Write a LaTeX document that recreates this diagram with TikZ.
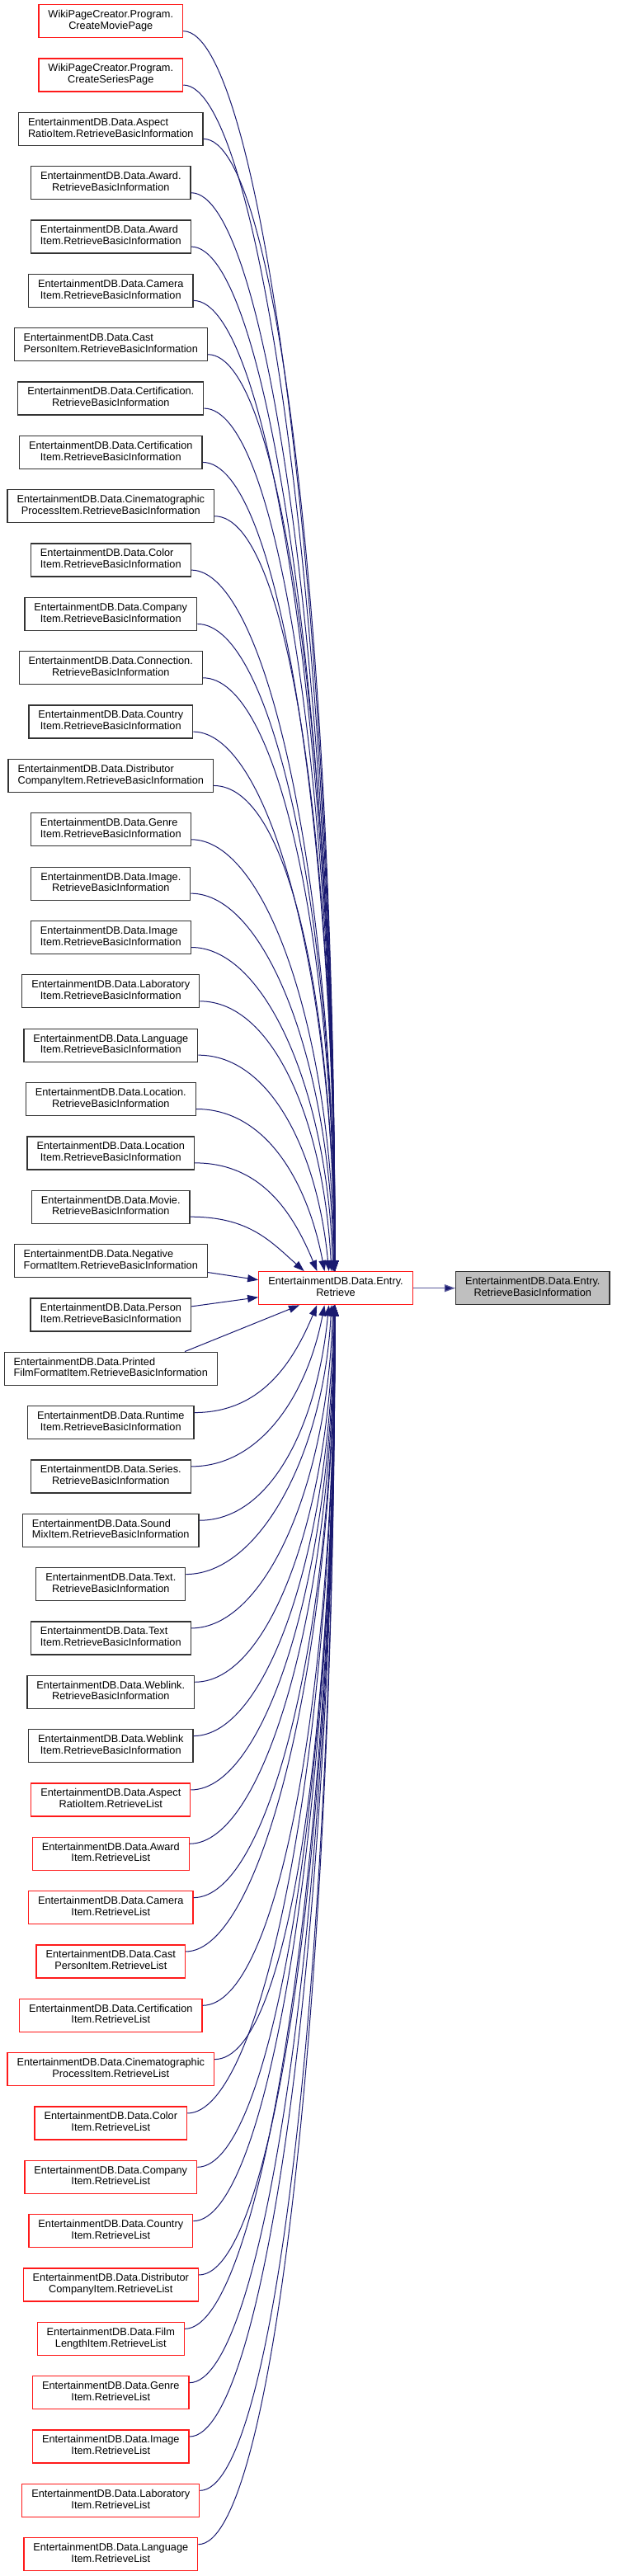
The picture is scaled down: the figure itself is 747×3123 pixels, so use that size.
\documentclass[tikz,border=0pt]{standalone}
\usepackage{fontspec}
\setmainfont{Liberation Sans}
\usetikzlibrary{arrows.meta}
\definecolor{edgeblue}{HTML}{191970}
\definecolor{lastblue}{HTML}{5C5C9C}
\definecolor{nodeborder}{HTML}{333333}
\definecolor{targetfill}{HTML}{BFBFBF}
\definecolor{redborder}{HTML}{FF1A1A}
\newcommand\lbl[2]{\begin{tabular}{@{}l@{}}#1\\\multicolumn{1}{@{}c@{}}{#2}\end{tabular}}
\newcommand\nodefont{\fontsize{12.75}{13.8}\selectfont}
\newcommand\callnode[4]{\node[#2] (n#1) at (134.3,{-(25.7+65.34*#1)}) {\lbl{#3}{#4}};}
\tikzset{
  box/.style={draw, line width=1.3pt, fill=white, minimum height=40pt, inner xsep=11.5pt, inner ysep=0pt, font=\nodefont, text=black},
  cb/.style={box, draw=nodeborder},
  cr/.style={box, draw=redborder},
  tgt/.style={box, draw=nodeborder, fill=targetfill},
  edge/.style={draw=edgeblue, line width=1pt, -{Triangle[length=13pt,width=9pt]}},
  lastedge/.style={draw=lastblue, line width=1.2pt, -{Triangle[length=13pt,width=9pt,fill=edgeblue]}}
}
\begin{document}
\begin{tikzpicture}[x=1pt,y=1pt]
\fill[white] (0,0) rectangle (747,-3123);
\useasboundingbox (0,0) rectangle (747,-3123);
\callnode{0}{cr}{WikiPageCreator.Program.}{CreateMoviePage}
\callnode{1}{cr}{WikiPageCreator.Program.}{CreateSeriesPage}
\callnode{2}{cb}{EntertainmentDB.Data.Aspect}{RatioItem.RetrieveBasicInformation}
\callnode{3}{cb}{EntertainmentDB.Data.Award.}{RetrieveBasicInformation}
\callnode{4}{cb}{EntertainmentDB.Data.Award}{Item.RetrieveBasicInformation}
\callnode{5}{cb}{EntertainmentDB.Data.Camera}{Item.RetrieveBasicInformation}
\callnode{6}{cb}{EntertainmentDB.Data.Cast}{PersonItem.RetrieveBasicInformation}
\callnode{7}{cb}{EntertainmentDB.Data.Certification.}{RetrieveBasicInformation}
\callnode{8}{cb}{EntertainmentDB.Data.Certification}{Item.RetrieveBasicInformation}
\callnode{9}{cb}{EntertainmentDB.Data.Cinematographic}{ProcessItem.RetrieveBasicInformation}
\callnode{10}{cb}{EntertainmentDB.Data.Color}{Item.RetrieveBasicInformation}
\callnode{11}{cb}{EntertainmentDB.Data.Company}{Item.RetrieveBasicInformation}
\callnode{12}{cb}{EntertainmentDB.Data.Connection.}{RetrieveBasicInformation}
\callnode{13}{cb}{EntertainmentDB.Data.Country}{Item.RetrieveBasicInformation}
\callnode{14}{cb}{EntertainmentDB.Data.Distributor}{CompanyItem.RetrieveBasicInformation}
\callnode{15}{cb}{EntertainmentDB.Data.Genre}{Item.RetrieveBasicInformation}
\callnode{16}{cb}{EntertainmentDB.Data.Image.}{RetrieveBasicInformation}
\callnode{17}{cb}{EntertainmentDB.Data.Image}{Item.RetrieveBasicInformation}
\callnode{18}{cb}{EntertainmentDB.Data.Laboratory}{Item.RetrieveBasicInformation}
\callnode{19}{cb}{EntertainmentDB.Data.Language}{Item.RetrieveBasicInformation}
\callnode{20}{cb}{EntertainmentDB.Data.Location.}{RetrieveBasicInformation}
\callnode{21}{cb}{EntertainmentDB.Data.Location}{Item.RetrieveBasicInformation}
\callnode{22}{cb}{EntertainmentDB.Data.Movie.}{RetrieveBasicInformation}
\callnode{23}{cb}{EntertainmentDB.Data.Negative}{FormatItem.RetrieveBasicInformation}
\callnode{24}{cb}{EntertainmentDB.Data.Person}{Item.RetrieveBasicInformation}
\callnode{25}{cb}{EntertainmentDB.Data.Printed}{FilmFormatItem.RetrieveBasicInformation}
\callnode{26}{cb}{EntertainmentDB.Data.Runtime}{Item.RetrieveBasicInformation}
\callnode{27}{cb}{EntertainmentDB.Data.Series.}{RetrieveBasicInformation}
\callnode{28}{cb}{EntertainmentDB.Data.Sound}{MixItem.RetrieveBasicInformation}
\callnode{29}{cb}{EntertainmentDB.Data.Text.}{RetrieveBasicInformation}
\callnode{30}{cb}{EntertainmentDB.Data.Text}{Item.RetrieveBasicInformation}
\callnode{31}{cb}{EntertainmentDB.Data.Weblink.}{RetrieveBasicInformation}
\callnode{32}{cb}{EntertainmentDB.Data.Weblink}{Item.RetrieveBasicInformation}
\callnode{33}{cr}{EntertainmentDB.Data.Aspect}{RatioItem.RetrieveList}
\callnode{34}{cr}{EntertainmentDB.Data.Award}{Item.RetrieveList}
\callnode{35}{cr}{EntertainmentDB.Data.Camera}{Item.RetrieveList}
\callnode{36}{cr}{EntertainmentDB.Data.Cast}{PersonItem.RetrieveList}
\callnode{37}{cr}{EntertainmentDB.Data.Certification}{Item.RetrieveList}
\callnode{38}{cr}{EntertainmentDB.Data.Cinematographic}{ProcessItem.RetrieveList}
\callnode{39}{cr}{EntertainmentDB.Data.Color}{Item.RetrieveList}
\callnode{40}{cr}{EntertainmentDB.Data.Company}{Item.RetrieveList}
\callnode{41}{cr}{EntertainmentDB.Data.Country}{Item.RetrieveList}
\callnode{42}{cr}{EntertainmentDB.Data.Distributor}{CompanyItem.RetrieveList}
\callnode{43}{cr}{EntertainmentDB.Data.Film}{LengthItem.RetrieveList}
\callnode{44}{cr}{EntertainmentDB.Data.Genre}{Item.RetrieveList}
\callnode{45}{cr}{EntertainmentDB.Data.Image}{Item.RetrieveList}
\callnode{46}{cr}{EntertainmentDB.Data.Laboratory}{Item.RetrieveList}
\callnode{47}{cr}{EntertainmentDB.Data.Language}{Item.RetrieveList}
\node[cr] (entry) at (407,-1561.7) {\lbl{EntertainmentDB.Data.Entry.}{Retrieve}};
\node[tgt] (target) at (645.8,-1561.7) {\lbl{EntertainmentDB.Data.Entry.}{RetrieveBasicInformation}};
% edges from callers above
\foreach \i in {0,...,22}{
  \pgfmathsetmacro\dist{1542-(37.7+65.34*\i)}
  \pgfmathsetmacro\xe{406-65*exp(-\dist/120)}
  \pgfmathsetmacro\xsh{\xe-407}
  \pgfmathsetmacro\hh{0.55*(\xe-240)}
  \pgfmathsetmacro\ctla{0.5*exp(-\dist/150)*(\xe-240)}
  \pgfmathsetmacro\ctlb{0.55*\dist}
  \draw[edge] ([yshift=-12pt]n\i.east) .. controls +(\hh pt,0pt) and +(-\ctla pt,\ctlb pt) .. ([xshift=\xsh pt]entry.north);
}
\draw[edge] ([yshift=-14pt]n23.east) -- ([yshift=10pt]entry.west);
\draw[edge] ([yshift=10pt]n24.east) -- ([yshift=-11pt]entry.west);
\draw[edge] ([xshift=-40pt]n25.north east) -- ([xshift=-44pt]entry.south);
% edges from callers below
\foreach \i in {26,...,47}{
  \pgfmathsetmacro\dist{(25.7+65.34*\i-12)-1581.3}
  \pgfmathsetmacro\xe{406-65*exp(-\dist/120)}
  \pgfmathsetmacro\xsh{\xe-407}
  \pgfmathsetmacro\hh{0.55*(\xe-240)}
  \pgfmathsetmacro\ctla{0.5*exp(-\dist/150)*(\xe-240)}
  \pgfmathsetmacro\ctlb{0.55*\dist}
  \draw[edge] ([yshift=12pt]n\i.east) .. controls +(\hh pt,0pt) and +(-\ctla pt,-\ctlb pt) .. ([xshift=\xsh pt]entry.south);
}
\draw[lastedge] (entry.east) -- (target.west);
\end{tikzpicture}
\end{document}
